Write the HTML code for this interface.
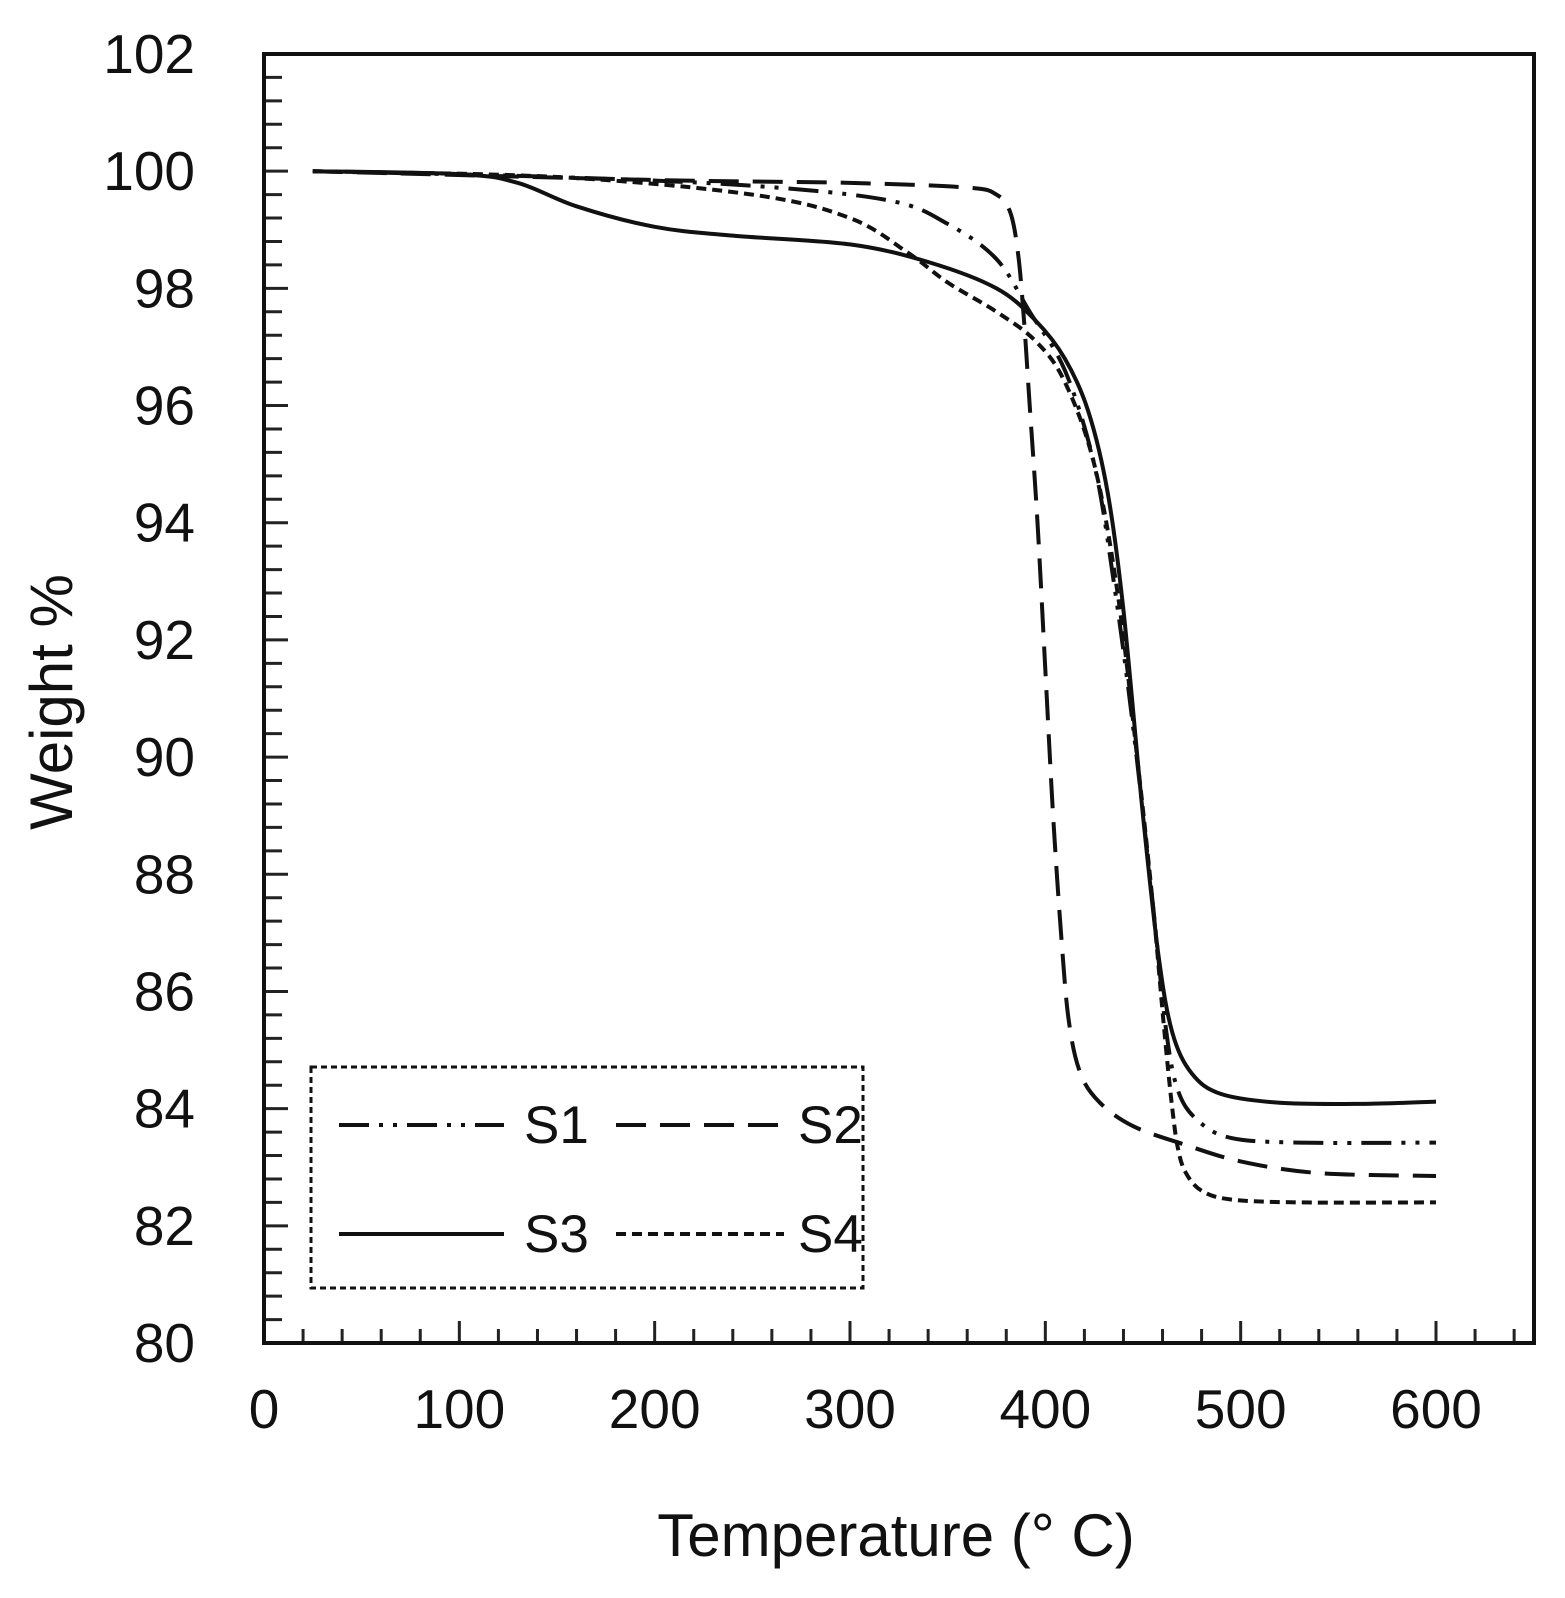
<!DOCTYPE html>
<html><head><meta charset="utf-8"><style>
html,body{margin:0;padding:0;background:#fff;}
svg{display:block;font-family:"Liberation Sans","DejaVu Sans",sans-serif;}
</style></head><body>
<svg id="s" width="1565" height="1598" viewBox="0 0 1565 1598" xmlns="http://www.w3.org/2000/svg">
<rect x="0" y="0" width="1565" height="1598" fill="#fff"/>
<g id="ticks" stroke="#222" stroke-width="3"></g>
<g id="curves" fill="none" stroke="#111" stroke-width="4" stroke-linejoin="round"></g>
<rect x="264" y="54" width="1270" height="1289" fill="none" stroke="#111" stroke-width="4"/>
<g id="labels" font-size="55" fill="#111"></g>
<text x="896" y="1556" font-size="60" text-anchor="middle" fill="#111">Temperature (° C)</text>
<text transform="translate(72,702) rotate(-90)" font-size="60" text-anchor="middle" fill="#111">Weight %</text>
<rect x="311" y="1067" width="552" height="221" fill="none" stroke="#111" stroke-width="3" stroke-dasharray="6,4"/>
<g stroke="#111" stroke-width="4">
<line x1="339" y1="1125" x2="504" y2="1125" stroke-dasharray="30,10,4,10,4,10"/>
<line x1="616" y1="1125" x2="784" y2="1125" stroke-dasharray="30,14"/>
<line x1="339" y1="1234" x2="504" y2="1234"/>
<line x1="616" y1="1234" x2="784" y2="1234" stroke-dasharray="10,6"/>
</g>
<g font-size="53" fill="#111">
<text x="524" y="1143">S1</text><text x="798" y="1143">S2</text>
<text x="524" y="1252">S3</text><text x="798" y="1252">S4</text>
</g>
</svg>
<script>
var NS="http://www.w3.org/2000/svg";
function X(t){return 264+t*1172/600;}
function Y(w){return 1343-(w-80)*1289/22;}
var tk=document.getElementById('ticks'),lb=document.getElementById('labels');
function el(p,tag,a,txt){var e=document.createElementNS(NS,tag);for(var k in a)e.setAttribute(k,a[k]);if(txt)e.textContent=txt;p.appendChild(e);}
for(var t=20;t<650;t+=20){var maj=t%100==0;el(tk,'line',{x1:X(t),x2:X(t),y1:1343,y2:1343-(maj?22:14)});}
for(var t=0;t<=600;t+=100){el(lb,'text',{x:X(t),y:1428,'text-anchor':'middle'},String(t));}
for(var i=1;i<55;i++){var w=80+i*0.4;var maj=(i%5==0);el(tk,'line',{x1:264,x2:264+(maj?24:18),y1:Y(w),y2:Y(w)});}
for(var w=80;w<=102;w+=2){el(lb,'text',{x:195,y:Y(w)+19,'text-anchor':'end'},String(w));}
var data={
S3:[[25,100],[100,99.95],[130,99.8],[160,99.4],[200,99.05],[240,98.9],[300,98.75],[340,98.45],[375,98.0],[395,97.45],[410,96.8],[422,95.9],[432,94.5],[440,92.5],[450,89],[458,86.6],[465,85.3],[475,84.6],[490,84.25],[520,84.1],[560,84.08],[600,84.12]],
S1:[[25,100],[150,99.9],[250,99.75],[320,99.5],[350,99.1],[375,98.5],[392,97.6],[410,96.6],[425,95],[435,93],[445,90.5],[455,87.5],[462,85.3],[468,84.3],[478,83.8],[495,83.5],[530,83.42],[600,83.42]],
S2:[[25,100],[200,99.85],[300,99.8],[360,99.72],[375,99.6],[382,99.3],[386,98.6],[389,97.5],[392,96],[396,94],[400,91.5],[404,89],[408,87],[412,85.5],[418,84.6],[428,84.1],[445,83.7],[470,83.4],[500,83.1],[540,82.9],[600,82.85]],
S4:[[25,100],[150,99.9],[250,99.6],[300,99.2],[330,98.6],[350,98.1],[375,97.6],[395,97.1],[410,96.4],[425,95],[437,92.8],[447,90],[455,87.5],[461,85.3],[465,84],[468,83.3],[472,82.9],[480,82.6],[495,82.45],[530,82.4],[600,82.4]]};
var dash={S1:"30,10,4,10,4,10",S2:"30,14",S3:"",S4:"10,6"};
var cv=document.getElementById('curves');
for(var k in data){var d=data[k].map(function(q){return [X(q[0]),Y(q[1])];});
var p="M"+d[0][0].toFixed(1)+","+d[0][1].toFixed(1);
for(var i=0;i<d.length-1;i++){var p0=d[i-1]||d[i],p1=d[i],p2=d[i+1],p3=d[i+2]||d[i+1];
var c1=[p1[0]+(p2[0]-p0[0])/6,p1[1]+(p2[1]-p0[1])/6],c2=[p2[0]-(p3[0]-p1[0])/6,p2[1]-(p3[1]-p1[1])/6];
p+=" C"+c1[0].toFixed(1)+","+c1[1].toFixed(1)+" "+c2[0].toFixed(1)+","+c2[1].toFixed(1)+" "+p2[0].toFixed(1)+","+p2[1].toFixed(1);}
var a={d:p};if(dash[k])a['stroke-dasharray']=dash[k];el(cv,'path',a);}
</script>
</body></html>
